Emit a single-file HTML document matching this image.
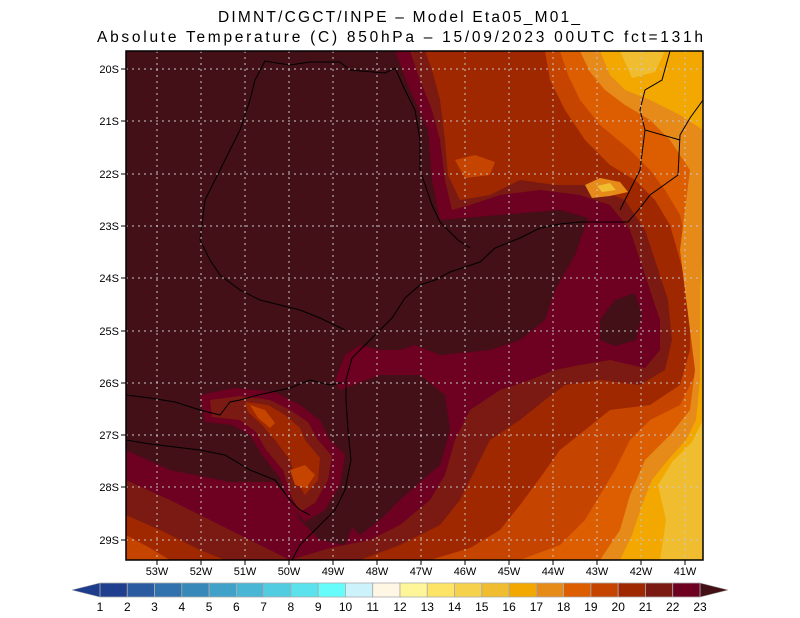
<!DOCTYPE html>
<html><head><meta charset="utf-8"><style>
body{margin:0;background:#fff;}
svg{display:block;font-family:"Liberation Sans",sans-serif;}
</style></head><body>
<svg width="800" height="618" viewBox="0 0 800 618" xmlns="http://www.w3.org/2000/svg">
<rect width="800" height="618" fill="#fff"/>
<text x="218" y="22" font-size="15.5" textLength="362" lengthAdjust="spacing">DIMNT/CGCT/INPE –  Model Eta05_M01_</text>
<text x="97" y="42" font-size="15.5" textLength="606" lengthAdjust="spacing">Absolute Temperature (C) 850hPa –  15/09/2023 00UTC fct=131h</text>
<defs><clipPath id="c"><rect x="126" y="51" width="577" height="509"/></clipPath></defs>
<g clip-path="url(#c)">
<rect x="126" y="51" width="577" height="509" fill="#6e0022"/>
<polygon fill="#421016" points="126,51 395,51 410,90 428,130 432,180 440,220 500,215 560,210 588,218 575,255 555,290 545,320 520,340 490,350 440,355 415,345 400,350 380,350 360,345 345,355 335,380 345,400 350,440 345,480 355,520 345,545 320,540 300,520 290,500 275,482 230,482 170,470 126,450"/>
<polygon fill="#421016" points="340,390 380,375 420,375 445,395 450,430 440,465 420,482 400,500 380,520 360,535 345,520 340,480 350,440 345,410"/>
<polygon fill="#421016" points="600,320 615,300 635,293 642,315 636,340 615,346 600,340"/>
<polygon fill="#6e0022" points="200,395 235,388 275,392 300,405 320,420 330,440 345,455 340,485 325,510 305,522 290,505 280,478 262,455 250,435 232,425 205,422"/>
<polygon fill="#7a1a12" points="210,400 240,396 270,400 290,410 308,422 318,440 332,456 328,480 315,503 300,512 292,498 283,470 266,450 256,432 240,420 212,417"/>
<polygon fill="#a02800" points="245,402 268,405 285,415 300,428 305,440 320,458 318,480 305,495 296,480 290,460 275,440 262,425 248,412"/>
<polygon fill="#c44400" points="250,405 265,410 275,423 270,428 258,418"/>
<polygon fill="#c44400" points="290,470 305,465 315,475 306,488 295,485"/>
<polygon fill="#7a1a12" points="126,480 170,500 220,525 260,545 290,560 126,560"/>
<polygon fill="#a02800" points="126,515 160,530 200,550 225,560 126,560"/>
<polygon fill="#c44400" points="126,535 150,548 170,560 126,560"/>
<polygon fill="#7a1a12" points="410,51 703,51 703,560 290,560 330,548 370,540 400,525 430,500 445,475 455,440 470,410 500,390 530,380 555,370 580,365 610,360 645,368 660,350 660,320 650,290 640,260 630,230 610,205 580,195 540,190 500,195 470,205 452,210 445,180 440,140 432,110 420,80"/>
<polygon fill="#a02800" points="425,51 703,51 703,560 360,560 400,545 440,525 460,500 475,470 490,440 520,420 545,400 565,385 600,380 640,385 665,370 672,340 668,300 655,260 645,230 625,200 590,185 555,185 520,180 490,195 460,200 448,175 445,140 440,100 432,70"/>
<polygon fill="#c44400" points="545,51 703,51 703,560 430,560 470,548 500,530 520,505 540,478 560,450 585,430 610,410 650,405 680,385 690,350 690,300 680,260 670,225 655,200 635,180 610,165 585,140 565,110 550,80"/>
<polygon fill="#c44400" points="455,160 475,155 495,162 490,175 465,178"/>
<polygon fill="#dc5e00" points="560,51 703,51 703,560 520,560 560,545 585,520 600,495 615,470 630,440 650,420 680,405 695,375 700,330 698,290 688,250 680,215 665,190 650,170 630,150 600,125 580,100 568,75"/>
<polygon fill="#e68a1a" points="580,51 703,51 703,560 600,560 620,530 630,495 645,460 670,435 690,410 695,370 690,330 685,290 680,250 685,210 690,170 670,140 650,120 625,105 605,90 590,72"/>
<polygon fill="#f2a800" points="600,51 703,51 703,130 680,115 650,100 625,90 610,75"/>
<polygon fill="#f2a800" points="703,250 703,560 620,560 632,535 642,505 652,480 668,460 686,440 696,420 700,380 700,290"/>
<polygon fill="#f0bc30" points="620,51 665,51 655,72 632,78"/>
<polygon fill="#f0bc30" points="703,420 703,560 660,560 666,520 658,485 672,462 692,442"/>
<polygon fill="#e68a1a" points="585,185 600,178 620,182 628,192 610,196 592,198"/>
<polygon fill="#f0bc30" points="597,186 610,183 616,190 602,192"/>
<g fill="none" stroke="#000" stroke-width="1">
<polyline points="703,100 690,118 680,135 678,175 650,195 640,208 628,222 600,222 580,222 560,224 540,228 520,238 495,248 480,262 450,272 435,280 420,285 405,298 392,318 372,338 352,358 346,380 346,400 348,430 351,460 345,490 335,510 315,530 300,545 292,560"/>
<polyline points="670,51 662,80 645,90 640,110 645,130 680,140"/>
<polyline points="645,130 640,170 630,190 620,210"/>
<polyline points="264,61 290,65 310,62 340,62 350,70 385,73 395,68 405,90 415,110 420,140 420,170 432,205 440,222 458,240 470,248"/>
<polyline points="265,61 255,80 250,100 240,130 230,150 215,180 205,200 200,240 210,260 220,275 240,290 260,300 280,305 300,310 320,318 345,330"/>
<polyline points="126,395 150,398 175,402 200,410 220,415 230,402 240,400 258,395 290,388 310,380 330,385 345,382"/>
<polyline points="126,440 150,444 175,447 200,450 225,455 250,470 275,480 290,500 300,510 310,515"/>
</g>
</g>
<g stroke="#c8c8c8" stroke-width="1" stroke-dasharray="2,4">
<line x1="157" y1="51" x2="157" y2="560"/><line x1="201" y1="51" x2="201" y2="560"/><line x1="245" y1="51" x2="245" y2="560"/><line x1="289" y1="51" x2="289" y2="560"/><line x1="333" y1="51" x2="333" y2="560"/><line x1="377" y1="51" x2="377" y2="560"/><line x1="421" y1="51" x2="421" y2="560"/><line x1="465" y1="51" x2="465" y2="560"/><line x1="509" y1="51" x2="509" y2="560"/><line x1="553" y1="51" x2="553" y2="560"/><line x1="597" y1="51" x2="597" y2="560"/><line x1="641" y1="51" x2="641" y2="560"/><line x1="685" y1="51" x2="685" y2="560"/>
<line x1="126" y1="69" x2="703" y2="69"/><line x1="126" y1="121" x2="703" y2="121"/><line x1="126" y1="174" x2="703" y2="174"/><line x1="126" y1="226" x2="703" y2="226"/><line x1="126" y1="278" x2="703" y2="278"/><line x1="126" y1="331" x2="703" y2="331"/><line x1="126" y1="383" x2="703" y2="383"/><line x1="126" y1="435" x2="703" y2="435"/><line x1="126" y1="487" x2="703" y2="487"/><line x1="126" y1="540" x2="703" y2="540"/>
</g>
<rect x="126" y="51" width="577" height="509" fill="none" stroke="#000" stroke-width="1.5"/>
<g stroke="#000" stroke-width="1">
<line x1="121" y1="69" x2="126" y2="69"/><line x1="121" y1="121" x2="126" y2="121"/><line x1="121" y1="174" x2="126" y2="174"/><line x1="121" y1="226" x2="126" y2="226"/><line x1="121" y1="278" x2="126" y2="278"/><line x1="121" y1="331" x2="126" y2="331"/><line x1="121" y1="383" x2="126" y2="383"/><line x1="121" y1="435" x2="126" y2="435"/><line x1="121" y1="487" x2="126" y2="487"/><line x1="121" y1="540" x2="126" y2="540"/>
<line x1="157" y1="560" x2="157" y2="565"/><line x1="201" y1="560" x2="201" y2="565"/><line x1="245" y1="560" x2="245" y2="565"/><line x1="289" y1="560" x2="289" y2="565"/><line x1="333" y1="560" x2="333" y2="565"/><line x1="377" y1="560" x2="377" y2="565"/><line x1="421" y1="560" x2="421" y2="565"/><line x1="465" y1="560" x2="465" y2="565"/><line x1="509" y1="560" x2="509" y2="565"/><line x1="553" y1="560" x2="553" y2="565"/><line x1="597" y1="560" x2="597" y2="565"/><line x1="641" y1="560" x2="641" y2="565"/><line x1="685" y1="560" x2="685" y2="565"/>
</g>
<g font-size="11" text-anchor="end">
<text x="119" y="73">20S</text><text x="119" y="125">21S</text><text x="119" y="178">22S</text><text x="119" y="230">23S</text><text x="119" y="282">24S</text><text x="119" y="335">25S</text><text x="119" y="387">26S</text><text x="119" y="439">27S</text><text x="119" y="491">28S</text><text x="119" y="544">29S</text>
</g>
<g font-size="11" text-anchor="middle">
<text x="157" y="575">53W</text><text x="201" y="575">52W</text><text x="245" y="575">51W</text><text x="289" y="575">50W</text><text x="333" y="575">49W</text><text x="377" y="575">48W</text><text x="421" y="575">47W</text><text x="465" y="575">46W</text><text x="509" y="575">45W</text><text x="553" y="575">44W</text><text x="597" y="575">43W</text><text x="641" y="575">42W</text><text x="685" y="575">41W</text>
</g>
<polygon points="100,583 72,590 100,597" fill="#1e3c8c" stroke="#999" stroke-width="0.6"/>
<polygon points="700,583 728,590 700,597" fill="#421016" stroke="#999" stroke-width="0.6"/>
<g stroke="#aaa" stroke-width="0.8">
<rect x="100" y="583" width="27.27" height="14" fill="#1f3f8e"/>
<rect x="127.27" y="583" width="27.27" height="14" fill="#2a5aa0"/>
<rect x="154.55" y="583" width="27.27" height="14" fill="#2f72ad"/>
<rect x="181.82" y="583" width="27.27" height="14" fill="#3689b9"/>
<rect x="209.09" y="583" width="27.27" height="14" fill="#40a2c8"/>
<rect x="236.36" y="583" width="27.27" height="14" fill="#48b6d4"/>
<rect x="263.64" y="583" width="27.27" height="14" fill="#52cce0"/>
<rect x="290.91" y="583" width="27.27" height="14" fill="#5ce2ec"/>
<rect x="318.18" y="583" width="27.27" height="14" fill="#66fcfc"/>
<rect x="345.45" y="583" width="27.27" height="14" fill="#ccf2fc"/>
<rect x="372.73" y="583" width="27.27" height="14" fill="#fff6e4"/>
<rect x="400" y="583" width="27.27" height="14" fill="#fff69a"/>
<rect x="427.27" y="583" width="27.27" height="14" fill="#fee466"/>
<rect x="454.55" y="583" width="27.27" height="14" fill="#f6d24c"/>
<rect x="481.82" y="583" width="27.27" height="14" fill="#f0bc30"/>
<rect x="509.09" y="583" width="27.27" height="14" fill="#f2a800"/>
<rect x="536.36" y="583" width="27.27" height="14" fill="#e68a1a"/>
<rect x="563.64" y="583" width="27.27" height="14" fill="#dc5e00"/>
<rect x="590.91" y="583" width="27.27" height="14" fill="#c44400"/>
<rect x="618.18" y="583" width="27.27" height="14" fill="#a02800"/>
<rect x="645.45" y="583" width="27.27" height="14" fill="#7a1a12"/>
<rect x="672.73" y="583" width="27.27" height="14" fill="#6e0022"/>
</g>
<g font-size="12" text-anchor="middle">
<text x="100" y="611">1</text><text x="127.3" y="611">2</text><text x="154.5" y="611">3</text><text x="181.8" y="611">4</text><text x="209.1" y="611">5</text><text x="236.4" y="611">6</text><text x="263.6" y="611">7</text><text x="290.9" y="611">8</text><text x="318.2" y="611">9</text><text x="345.5" y="611">10</text><text x="372.7" y="611">11</text><text x="400" y="611">12</text><text x="427.3" y="611">13</text><text x="454.5" y="611">14</text><text x="481.8" y="611">15</text><text x="509.1" y="611">16</text><text x="536.4" y="611">17</text><text x="563.6" y="611">18</text><text x="590.9" y="611">19</text><text x="618.2" y="611">20</text><text x="645.5" y="611">21</text><text x="672.7" y="611">22</text><text x="700" y="611">23</text>
</g>
</svg>
</body></html>
